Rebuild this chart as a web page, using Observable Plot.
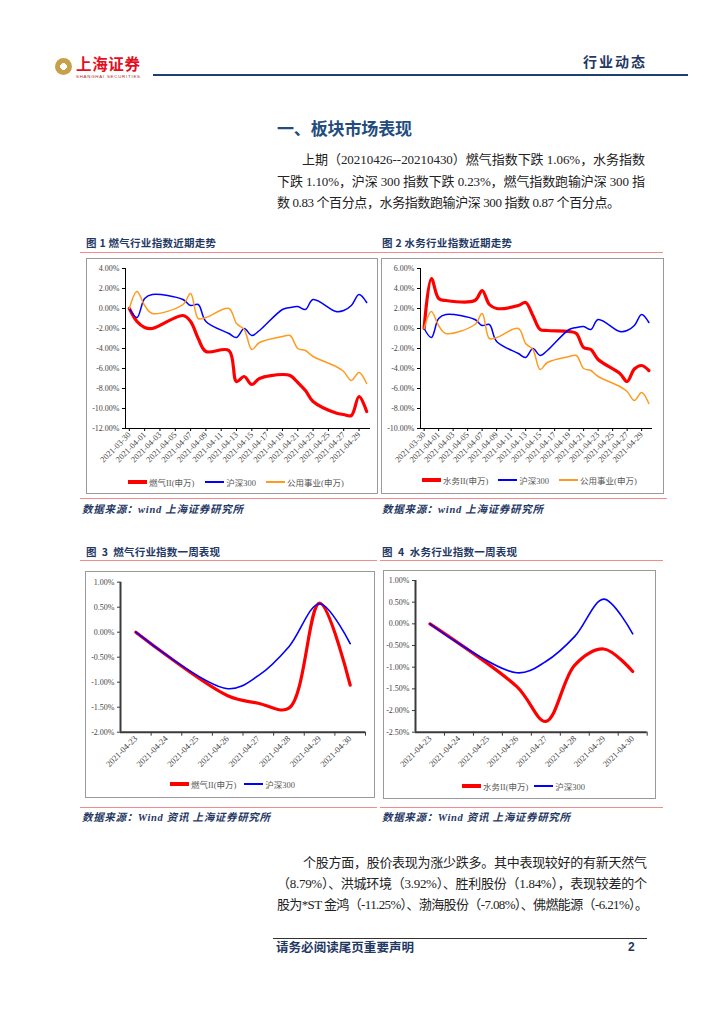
<!DOCTYPE html>
<html><head><meta charset="utf-8">
<script src="https://cdn.jsdelivr.net/npm/d3@7"></script>
<script src="https://cdn.jsdelivr.net/npm/@observablehq/plot@0.6"></script>
<style>
html,body{margin:0;padding:0;}
body{width:724px;height:1024px;background:#fff;position:relative;overflow:hidden;font-family:"Liberation Serif","Noto Sans CJK SC",serif;color:#222;}
.a{position:absolute;white-space:nowrap;}
.ftitle{font-family:"Noto Sans CJK SC",sans-serif;font-weight:bold;font-size:10.5px;color:#1F3864;line-height:12px;}
.src{font-family:"Liberation Serif","Noto Sans CJK SC",serif;font-weight:bold;font-style:italic;font-size:10.5px;color:#1F3864;line-height:12px;}
.pink{position:absolute;height:1px;background:#F28C8C;}
.box{position:absolute;border:1px solid #9a9a9a;box-sizing:border-box;background:#fff;}
.box svg{position:absolute;left:0;top:0;overflow:visible;}
.leg{position:absolute;display:flex;align-items:center;font-family:"Liberation Serif","Noto Sans CJK SC",serif;font-size:8.5px;color:#555;white-space:nowrap;height:10px;}
.sw{display:inline-block;width:19px;margin-right:2px;}
.para{position:absolute;font-size:13px;line-height:16px;color:#222;white-space:nowrap;}
</style></head><body>

<!-- header -->
<div class="a" style="left:55px;top:58px;width:17px;height:17px;border-radius:50%;background:radial-gradient(circle,#fff 0 28%,#c8a04a 30% 100%);"></div>
<div class="a fit" data-w="64" style="left:76px;top:56px;font-family:'Noto Sans CJK SC',sans-serif;font-weight:bold;font-size:15.5px;line-height:15px;color:#E60F1E;">上海证券</div>
<div class="a fit" data-w="64" style="left:76px;top:75px;font-family:'Liberation Sans',sans-serif;font-size:4.4px;line-height:4.6px;color:#B0282E;">SHANGHAI SECURITIES</div>
<div class="a" style="left:153px;top:74px;width:535px;height:2px;background:#1F3F70;"></div>
<div class="a fit" data-w="62" style="left:583px;top:53px;font-family:'Noto Sans CJK SC',sans-serif;font-weight:bold;font-size:14px;line-height:16px;color:#1F3864;">行业动态</div>

<!-- section title -->
<div class="a fit" data-w="135" style="left:277px;top:118px;font-family:'Noto Sans CJK SC',sans-serif;font-weight:bold;font-size:17px;line-height:20px;color:#234C7E;">一、板块市场表现</div>

<div class="para fit" data-w="343" style="left:302px;top:152px;">上期（20210426--20210430）燃气指数下跌 1.06%，水务指数</div>
<div class="para fit" data-w="368" style="left:277px;top:174px;">下跌 1.10%，沪深 300 指数下跌 0.23%，燃气指数跑输沪深 300 指</div>
<div class="para fit" data-w="343" style="left:277px;top:195px;">数 0.83 个百分点，水务指数跑输沪深 300 指数 0.87 个百分点。</div>

<!-- figure titles -->
<div class="a ftitle fit" data-w="130" style="left:86px;top:237px;">图 1 燃气行业指数近期走势</div>
<div class="a ftitle fit" data-w="130" style="left:382px;top:237px;">图 2 水务行业指数近期走势</div>
<div class="pink" style="left:80px;top:252px;width:300px;"></div>
<div class="pink" style="left:380px;top:252px;width:283px;"></div>

<div class="box" id="c1" style="left:86px;top:258px;width:292px;height:236px;"></div>
<div class="box" id="c2" style="left:381px;top:258px;width:283px;height:236px;"></div>
<div class="pink" style="left:80px;top:498px;width:300px;"></div>
<div class="pink" style="left:380px;top:498px;width:287px;"></div>
<div class="a src fit" data-w="161" style="left:82px;top:504px;">数据来源：wind 上海证券研究所</div>
<div class="a src fit" data-w="161" style="left:382px;top:504px;">数据来源：wind 上海证券研究所</div>

<div class="a ftitle fit" data-w="134" style="left:86px;top:546px;">图&nbsp; 3&nbsp; 燃气行业指数一周表现</div>
<div class="a ftitle fit" data-w="135" style="left:382px;top:546px;">图&nbsp; 4&nbsp; 水务行业指数一周表现</div>
<div class="pink" style="left:80px;top:560px;width:297px;"></div>
<div class="pink" style="left:380px;top:560px;width:283px;"></div>

<div class="box" id="c3" style="left:85px;top:571px;width:290px;height:227px;"></div>
<div class="box" id="c4" style="left:383px;top:570px;width:273px;height:229px;"></div>
<div class="pink" style="left:80px;top:807px;width:297px;"></div>
<div class="pink" style="left:380px;top:807px;width:283px;"></div>
<div class="a src fit" data-w="188" style="left:82px;top:812px;">数据来源：Wind 资讯 上海证券研究所</div>
<div class="a src fit" data-w="188" style="left:382px;top:812px;">数据来源：Wind 资讯 上海证券研究所</div>

<div class="para fit" data-w="344" style="left:303px;top:855px;">个股方面，股价表现为涨少跌多。其中表现较好的有新天然气</div>
<div class="para fit" data-w="370" style="left:277px;top:876px;">（8.79%）、洪城环境（3.92%）、胜利股份（1.84%），表现较差的个</div>
<div class="para fit" data-w="371" style="left:277px;top:897px;">股为*ST 金鸿（-11.25%）、渤海股份（-7.08%）、佛燃能源（-6.21%）。</div>

<!-- footer -->
<div class="a" style="left:273px;top:938px;width:374px;height:1px;background:#333;"></div>
<div class="a fit" data-w="138" style="left:276px;top:940px;font-family:'Noto Sans CJK SC',sans-serif;font-weight:bold;font-size:12.5px;line-height:14px;color:#1F3864;">请务必阅读尾页重要声明</div>
<div class="a" style="left:628px;top:940px;font-family:'Liberation Sans',sans-serif;font-weight:bold;font-size:12px;line-height:14px;color:#1F3864;">2</div>

<script>
// ---------- data ----------
const monthDates = ["2021-03-30","2021-03-31","2021-04-01","2021-04-02","2021-04-06","2021-04-07","2021-04-08","2021-04-09","2021-04-12","2021-04-13","2021-04-14","2021-04-15","2021-04-16","2021-04-19","2021-04-20","2021-04-21","2021-04-22","2021-04-23","2021-04-26","2021-04-27","2021-04-28","2021-04-29","2021-04-30"];
const gasMonth   = [0, -1.3, -1.9, -2.0, -0.7, -1.3, -3.0, -4.3, -4.2, -7.3, -6.8, -7.6, -7.0, -6.6, -6.7, -7.4, -8.2, -9.3, -10.45, -10.6, -10.7, -8.8, -10.3];
const waterMonth = [0, 5.0, 3.0, 2.8, 2.8, 3.8, 2.4, 2.0, 2.3, 2.6, 1.3, -0.1, -0.2, -0.3, -0.5, -1.9, -2.1, -3.1, -4.5, -5.3, -4.05, -3.7, -4.2];
const hs300Month = [0, -0.9, 1.0, 1.4, 0.9, 0.3, 0.4, -1.3, -2.5, -2.9, -2.0, -2.7, -2.2, -0.1, 0.1, 0.2, -0.1, 0.9, -0.3, -0.2, 0.3, 1.4, 0.6];
const utilMonth  = [0, 1.7, 0.3, -0.5, 0.4, 1.5, -1.0, -0.9, 0.0, -1.5, -2.1, -4.1, -3.4, -2.8, -2.7, -4.0, -4.2, -4.8, -5.8, -6.3, -7.2, -6.4, -7.5];
const monthTicks = ["2021-03-30","2021-04-01","2021-04-03","2021-04-05","2021-04-07","2021-04-09","2021-04-11","2021-04-13","2021-04-15","2021-04-17","2021-04-19","2021-04-21","2021-04-23","2021-04-25","2021-04-27","2021-04-29"];
const yTicks1 = [4, 2, 0, -2, -4, -6, -8, -10, -12];
const yTicks2 = [6, 4, 2, 0, -2, -4, -6, -8, -10];

const weekDates = ["2021-04-23","2021-04-26","2021-04-27","2021-04-28","2021-04-29","2021-04-30"];
const gasWeek   = [0, -1.27, -1.42, -1.52, 0.58, -1.06];
const hs300Week = [0, -1.13, -0.87, -0.29, 0.57, -0.23];
const waterWeek = [0, -1.45, -2.25, -0.95, -0.58, -1.10];
const weekTicks = ["2021-04-23","2021-04-24","2021-04-25","2021-04-26","2021-04-27","2021-04-28","2021-04-29","2021-04-30"];
const yTicks3 = [1, 0.5, 0, -0.5, -1, -1.5, -2];
const yTicks4 = [1, 0.5, 0, -0.5, -1, -1.5, -2, -2.5];

const names = {gas: "燃气II(申万)", water: "水务II(申万)", hs300: "沪深300", util: "公用事业(申万)"};
const colors = {red: "#FF0000", blue: "#0000FF", orange: "#FF9A1F"};

// ---------- text fitting ----------
document.querySelectorAll(".fit").forEach(el => {
  const target = +el.dataset.w;
  el.style.letterSpacing = "0px";
  const w = el.getBoundingClientRect().width;
  const n = [...el.textContent].length;
  if (n > 1) el.style.letterSpacing = ((target - w) / (n - 1)) + "px";
});

// ---------- helpers ----------
const parse = d3.utcParse("%Y-%m-%d");
const fmtPct = d => d.toFixed(2) + "%";
const fmtDate = d3.utcFormat("%Y-%m-%d");
const rows = (dates, vals) => dates.map((d, i) => ({date: parse(d), v: vals[i]}));

function chart(o) {
  const marks = [
    Plot.axisY({ticks: o.yTicks, tickFormat: fmtPct, tickSize: 3, tickPadding: 3, label: null, stroke: o.axisColor, strokeWidth: 1, fontSize: 8}),
  ];
  if (o.boundaryTicks) {
    marks.push(Plot.axisX({ticks: o.boundaryTicks, tickFormat: () => "", tickSize: 4, label: null, stroke: o.axisColor, strokeWidth: 1}));
    marks.push(Plot.axisX({ticks: o.xTicks.map(parse), tickFormat: fmtDate, tickRotate: -45, tickSize: 0, tickPadding: 5, label: null, fontSize: 8.6}));
  } else {
    marks.push(Plot.axisX({ticks: o.xTicks.map(parse), tickFormat: fmtDate, tickRotate: -45, tickSize: 3, tickPadding: 2, label: null, stroke: o.axisColor, fontSize: 8.4}));
  }
  marks.push(Plot.ruleX([o.xDomain[0]], {stroke: o.axisColor, strokeWidth: o.axisW}));
  marks.push(Plot.ruleY([o.yDomain[0]], {stroke: o.axisColor, strokeWidth: o.axisW}));
  for (const s of o.series) {
    marks.push(Plot.line(s.data, {x: "date", y: "v", stroke: s.color, strokeWidth: s.w, curve: "catmull-rom"}));
  }
  return Plot.plot({
    width: o.width, height: o.height,
    marginLeft: o.ml, marginRight: o.mr, marginTop: o.mt, marginBottom: o.mb,
    style: {fontFamily: '"Liberation Serif", serif', fontSize: "8px", color: "#444", background: "none", overflow: "visible"},
    x: {type: "utc", domain: o.xDomain},
    y: {domain: o.yDomain},
    marks
  });
}

function legend(host, items, left, top) {
  const div = document.createElement("div");
  div.className = "leg";
  div.style.left = left + "px";
  div.style.top = top + "px";
  items.forEach((it, i) => {
    const sw = document.createElement("span");
    sw.className = "sw";
    sw.style.height = it.w + "px";
    sw.style.background = it.color;
    if (i > 0) sw.style.marginLeft = it.gap + "px";
    const t = document.createElement("span");
    t.textContent = it.label;
    div.append(sw, t);
  });
  host.append(div);
}

const monthDomain = [new Date("2021-03-29T12:00Z"), new Date("2021-04-30T12:00Z")];
const weekDomain = [new Date("2021-04-22T12:00Z"), new Date("2021-04-30T12:00Z")];
const weekBoundaries = weekTicks.map(d => d3.utcHour.offset(parse(d), 12));

// chart 1
const c1 = document.getElementById("c1");
c1.append(chart({
  width: 290, height: 215, ml: 38, mr: 7, mt: 9, mb: 46,
  xDomain: monthDomain, yDomain: [-12, 4], xTicks: monthTicks, yTicks: yTicks1,
  axisColor: "#000", axisW: 1,
  series: [
    {data: rows(monthDates, gasMonth), color: colors.red, w: 3.2},
    {data: rows(monthDates, hs300Month), color: colors.blue, w: 1.5},
    {data: rows(monthDates, utilMonth), color: colors.orange, w: 1.5}
  ]
}));
legend(c1, [
  {label: names.gas, color: colors.red, w: 3.5, gap: 0},
  {label: names.hs300, color: colors.blue, w: 1.5, gap: 11},
  {label: names.util, color: colors.orange, w: 1.5, gap: 10}
], 41, 218);

// chart 2
const c2 = document.getElementById("c2");
c2.append(chart({
  width: 281, height: 215, ml: 38, mr: 11, mt: 9, mb: 46,
  xDomain: monthDomain, yDomain: [-10, 6], xTicks: monthTicks, yTicks: yTicks2,
  axisColor: "#000", axisW: 1,
  series: [
    {data: rows(monthDates, waterMonth), color: colors.red, w: 3.2},
    {data: rows(monthDates, hs300Month), color: colors.blue, w: 1.5},
    {data: rows(monthDates, utilMonth), color: colors.orange, w: 1.5}
  ]
}));
legend(c2, [
  {label: names.water, color: colors.red, w: 3.5, gap: 0},
  {label: names.hs300, color: colors.blue, w: 1.5, gap: 10},
  {label: names.util, color: colors.orange, w: 1.5, gap: 10}
], 40, 216);

// chart 3
const c3 = document.getElementById("c3");
c3.append(chart({
  width: 288, height: 200, ml: 34, mr: 9, mt: 9.7, mb: 40.3,
  xDomain: weekDomain, yDomain: [-2, 1], xTicks: weekTicks, yTicks: yTicks3,
  boundaryTicks: weekBoundaries, axisColor: "#3a3a3a", axisW: 2,
  series: [
    {data: rows(weekDates, gasWeek), color: colors.red, w: 3.2},
    {data: rows(weekDates, hs300Week), color: colors.blue, w: 1.6}
  ]
}));
legend(c3, [
  {label: names.gas, color: colors.red, w: 3.5, gap: 0},
  {label: names.hs300, color: colors.blue, w: 1.5, gap: 8}
], 84, 207);

// chart 4
const c4 = document.getElementById("c4");
c4.append(chart({
  width: 271, height: 202, ml: 31, mr: 8.3, mt: 9, mb: 41.3,
  xDomain: weekDomain, yDomain: [-2.5, 1], xTicks: weekTicks, yTicks: yTicks4,
  boundaryTicks: weekBoundaries, axisColor: "#3a3a3a", axisW: 2,
  series: [
    {data: rows(weekDates, waterWeek), color: colors.red, w: 3.2},
    {data: rows(weekDates, hs300Week), color: colors.blue, w: 1.6}
  ]
}));
legend(c4, [
  {label: names.water, color: colors.red, w: 3.5, gap: 0},
  {label: names.hs300, color: colors.blue, w: 2, gap: 6}
], 78, 210);
</script>
</body></html>
